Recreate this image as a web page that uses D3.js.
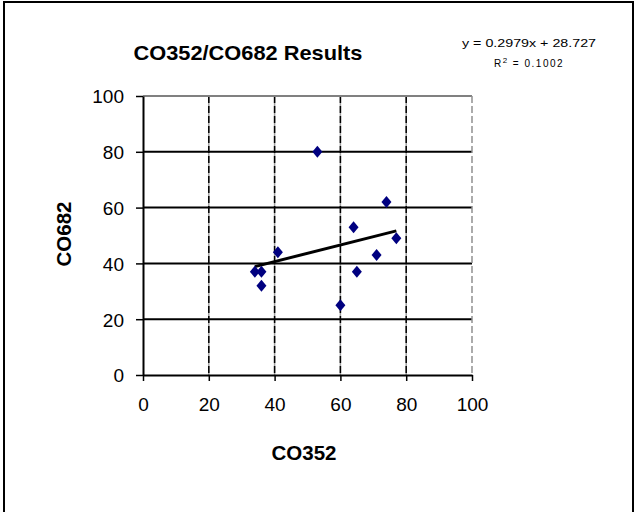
<!DOCTYPE html>
<html>
<head>
<meta charset="utf-8">
<script src="https://cdn.jsdelivr.net/npm/d3@7"></script>
<style>
  body { margin: 0; background: #fff; }
  text { font-family: Arial, "Liberation Sans", sans-serif; }
</style>
</head>
<body>
<script>
// data
const co352 = [53, 74, 64, 77, 41, 71, 34, 36, 65, 36, 60];
const co682 = [80, 62, 53, 49, 44, 43, 37, 37, 37, 32, 25];
const ticks = [0, 20, 40, 60, 80, 100];
const slope = 0.2979, intercept = 28.727;
const eqText = 'y = 0.2979x + 28.727';
const r2Text = '0.1002';

const W = 635, H = 512;
const plot = { left: 143, right: 472, top: 96, bottom: 375 };

const svg = d3.select('body').append('svg')
    .attr('width', W).attr('height', H);

// outer chart frame (bottom runs off the picture)
svg.append('rect')
    .attr('x', 4).attr('y', 2)
    .attr('width', 629).attr('height', 530)
    .attr('fill', 'none').attr('stroke', '#000').attr('stroke-width', 2);

const x = d3.scaleLinear().domain([0, 100]).range([plot.left, plot.right]);
const y = d3.scaleLinear().domain([0, 100]).range([plot.bottom, plot.top]);

// vertical gridlines: grey underneath, black dashes on top
const vGrid = svg.append('g');
vGrid.selectAll('line.under')
    .data(ticks.slice(1, -1))
    .enter().append('line')
    .attr('class', 'under')
    .attr('x1', d => x(d)).attr('x2', d => x(d))
    .attr('y1', plot.top).attr('y2', plot.bottom)
    .attr('stroke', '#a0a0a0').attr('stroke-width', 1.5);
vGrid.selectAll('line.over')
    .data(ticks.slice(1, -1))
    .enter().append('line')
    .attr('class', 'over')
    .attr('x1', d => x(d)).attr('x2', d => x(d))
    .attr('y1', plot.top).attr('y2', plot.bottom)
    .attr('stroke', '#000').attr('stroke-width', 1.5)
    .attr('stroke-dasharray', '7,3');

// horizontal gridlines (solid)
svg.append('g')
    .selectAll('line')
    .data(ticks.slice(1, -1))
    .enter().append('line')
    .attr('x1', plot.left).attr('x2', plot.right)
    .attr('y1', d => y(d)).attr('y2', d => y(d))
    .attr('stroke', '#000').attr('stroke-width', 2);

// plot area top / right edges in grey
svg.append('line')
    .attr('x1', plot.left).attr('x2', plot.right)
    .attr('y1', y(100)).attr('y2', y(100))
    .attr('stroke', '#808080').attr('stroke-width', 2);
svg.append('line')
    .attr('x1', x(100)).attr('x2', x(100))
    .attr('y1', plot.top).attr('y2', plot.bottom)
    .attr('stroke', '#909090').attr('stroke-width', 1.5)
    .attr('stroke-dasharray', '7,3');

// axes
const xAxis = svg.append('g')
    .attr('transform', `translate(0, ${plot.bottom})`)
    .call(d3.axisBottom(x).tickValues(ticks).tickSize(6).tickSizeOuter(0).tickPadding(17));
const yAxis = svg.append('g')
    .attr('transform', `translate(${plot.left}, 0)`)
    .call(d3.axisLeft(y).tickValues(ticks).tickSize(7).tickSizeOuter(0).tickPadding(12));

[xAxis, yAxis].forEach(a => {
    a.select('.domain').attr('stroke', '#000').attr('stroke-width', 2);
    a.selectAll('.tick line').attr('stroke', '#000').attr('stroke-width', 1.5);
    a.selectAll('.tick text')
        .attr('fill', '#000')
        .style('font-size', '19px')
        .style('font-family', 'Arial, "Liberation Sans", sans-serif');
});
yAxis.selectAll('.tick text').attr('dy', '0.36em');

// trendline over the x range of the data
const xMin = d3.min(co352), xMax = d3.max(co352);
svg.append('line')
    .attr('x1', x(xMin)).attr('y1', y(slope * xMin + intercept))
    .attr('x2', x(xMax)).attr('y2', y(slope * xMax + intercept))
    .attr('stroke', '#000').attr('stroke-width', 3);

// points as diamonds
const diamond = 'M0,-6 L5,0 L0,6 L-5,0 Z';
svg.append('g')
    .selectAll('path')
    .data(co352.map((d, i) => [d, co682[i]]))
    .enter().append('path')
    .attr('d', diamond)
    .attr('transform', d => `translate(${x(d[0])}, ${y(d[1])})`)
    .attr('fill', '#000080');

// title
svg.append('text')
    .attr('x', 248).attr('y', 60)
    .attr('text-anchor', 'middle')
    .attr('textLength', 229).attr('lengthAdjust', 'spacingAndGlyphs')
    .style('font-size', '21px').style('font-weight', 'bold')
    .text('CO352/CO682 Results');

// axis titles
svg.append('text')
    .attr('x', 304).attr('y', 460)
    .attr('text-anchor', 'middle')
    .attr('textLength', 65).attr('lengthAdjust', 'spacingAndGlyphs')
    .style('font-size', '20px').style('font-weight', 'bold')
    .text('CO352');
svg.append('text')
    .attr('transform', 'rotate(-90)')
    .attr('x', -234).attr('y', 71)
    .attr('text-anchor', 'middle')
    .attr('textLength', 65).attr('lengthAdjust', 'spacingAndGlyphs')
    .style('font-size', '20px').style('font-weight', 'bold')
    .text('CO682');

// regression label
svg.append('text')
    .attr('x', 529).attr('y', 47)
    .attr('text-anchor', 'middle')
    .attr('textLength', 134).attr('lengthAdjust', 'spacingAndGlyphs')
    .style('font-size', '10px')
    .text(eqText);
const r2 = svg.append('text')
    .attr('x', 529).attr('y', 67)
    .attr('text-anchor', 'middle')
    .style('font-size', '10px')
    .style('letter-spacing', '1.5px');
r2.append('tspan').text('R');
r2.append('tspan').attr('dy', -4).style('font-size', '8px').text('2');
r2.append('tspan').attr('dy', 4).text(' = ' + r2Text);
</script>
</body>
</html>
